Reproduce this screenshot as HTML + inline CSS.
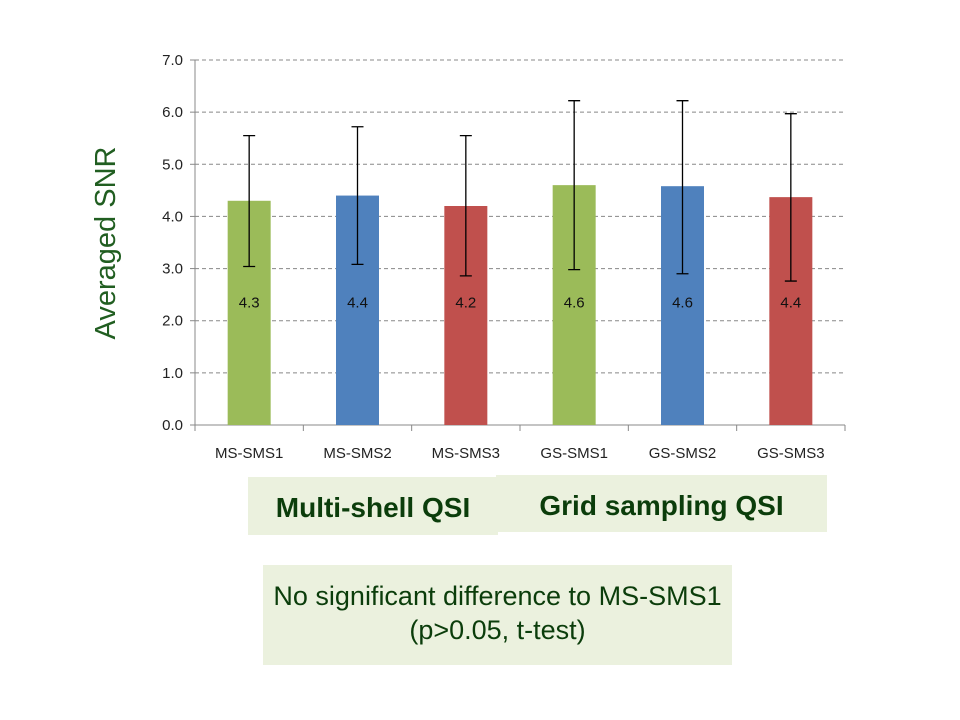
<!DOCTYPE html>
<html><head><meta charset="utf-8"><style>
body{margin:0;background:#fff;width:960px;height:720px;overflow:hidden;font-family:"Liberation Sans",sans-serif}
.box{position:absolute;background:#ebf1de;color:#0b3d0b;text-align:center}
</style></head><body>
<svg id="chart" width="960" height="720" style="position:absolute;left:0;top:0">
<text x="115" y="243" transform="rotate(-90 115 243)" text-anchor="middle" font-size="29" fill="#215e21" font-family="Liberation Sans,sans-serif">Averaged SNR</text>
</svg>
<div class="box" style="left:248px;top:477px;width:250px;height:58px;font-weight:bold;font-size:28px;line-height:62px">Multi-shell QSI</div>
<div class="box" style="left:496px;top:475px;width:331px;height:57px;font-weight:bold;font-size:28px;line-height:62px">Grid sampling QSI</div>
<div class="box" style="left:263px;top:565px;width:469px;height:100px;font-size:27px;line-height:34px;padding-top:14px;box-sizing:border-box">No significant difference to MS-SMS1<br>(p&gt;0.05, t-test)</div>
<script>
const categories=["MS-SMS1","MS-SMS2","MS-SMS3","GS-SMS1","GS-SMS2","GS-SMS3"];
const values=[4.3,4.4,4.2,4.6,4.58,4.37];
const valueLabels=["4.3","4.4","4.2","4.6","4.6","4.4"];
const errHigh=[5.55,5.72,5.55,6.22,6.22,5.97];
const errLow=[3.04,3.08,2.86,2.98,2.90,2.76];
const colors=["#9bbb59","#4f81bd","#c0504d","#9bbb59","#4f81bd","#c0504d"];
const yTicks=[0,1,2,3,4,5,6,7];
const svg=document.getElementById('chart');
const NS='http://www.w3.org/2000/svg';
const x0=195,x1=845,yB=425,yT=60,yMax=7;
const y=v=>yB-(v/yMax)*(yB-yT);
const band=(x1-x0)/categories.length;
const xc=i=>x0+band*(i+0.5);
function mk(t,a){const e=document.createElementNS(NS,t);for(const k in a)e.setAttribute(k,a[k]);svg.appendChild(e);return e;}
yTicks.forEach(t=>{
  if(t>0){const g=mk('line',{x1:x0,x2:x1,y1:y(t),y2:y(t),stroke:'#888','stroke-dasharray':'4,3','stroke-width':1});
  
  }
  const tk=mk('line',{x1:x0-5,x2:x0,y1:y(t),y2:y(t),stroke:'#888'});
  
  
  const l=mk('text',{x:x0-12,y:y(t)+5,'text-anchor':'end','font-size':15,fill:'#222','font-family':'Liberation Sans,sans-serif'});
  l.textContent=t.toFixed(1);
  
  
});
const ya=mk('line',{x1:x0,x2:x0,y1:yT,y2:yB,stroke:'#888'});


const xa=mk('line',{x1:x0,x2:x1,y1:yB,y2:yB,stroke:'#888'});


for(let i=0;i<=categories.length;i++){const t=mk('line',{x1:x0+band*i,x2:x0+band*i,y1:yB,y2:yB+6,stroke:'#888'});

}
categories.forEach((c,i)=>{
  const w=43,cx=xc(i);
  const b=mk('rect',{x:cx-w/2,y:y(values[i]),width:w,height:yB-y(values[i]),fill:colors[i]});
  
  
  const e=mk('path',{d:`M${cx},${y(errHigh[i])}V${y(errLow[i])}M${cx-6},${y(errHigh[i])}H${cx+6}M${cx-6},${y(errLow[i])}H${cx+6}`,stroke:'#000','stroke-width':1.3,fill:'none'});
  
  
  const v=mk('text',{x:cx,y:y(2.25),'text-anchor':'middle','font-size':15,fill:'#111','font-family':'Liberation Sans,sans-serif'});
  v.textContent=valueLabels[i];
  
  
  const l=mk('text',{x:cx,y:yB+33,'text-anchor':'middle','font-size':15,fill:'#222','font-family':'Liberation Sans,sans-serif'});
  l.textContent=c;
  
  
});
</script>
</body></html>
